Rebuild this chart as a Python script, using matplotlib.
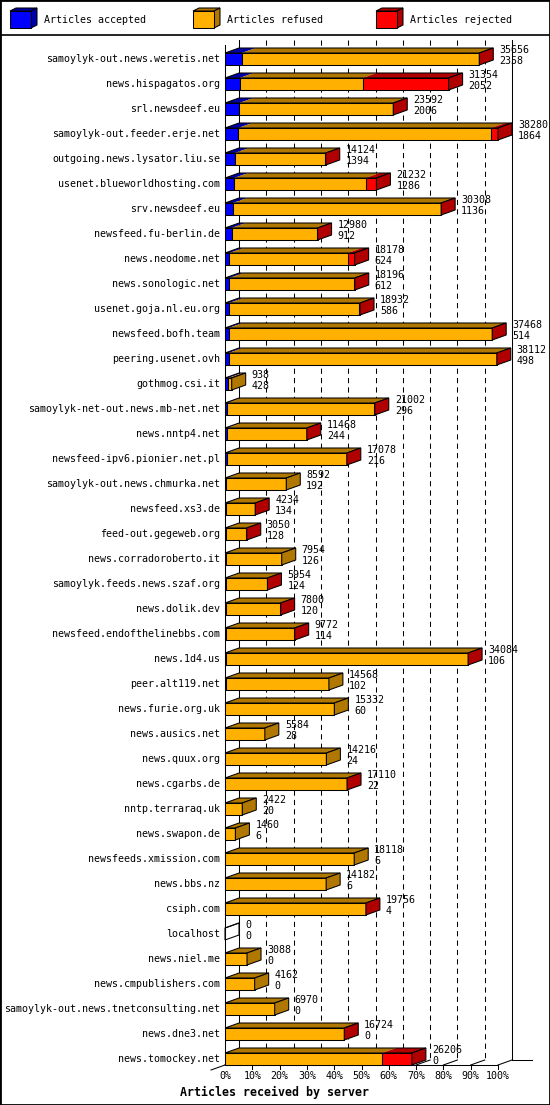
import matplotlib
matplotlib.use("Agg")
import matplotlib.pyplot as plt
from matplotlib.patches import Polygon, Rectangle

servers = [
    "samoylyk-out.news.weretis.net", "news.hispagatos.org", "srl.newsdeef.eu",
    "samoylyk-out.feeder.erje.net", "outgoing.news.lysator.liu.se",
    "usenet.blueworldhosting.com", "srv.newsdeef.eu", "newsfeed.fu-berlin.de",
    "news.neodome.net", "news.sonologic.net", "usenet.goja.nl.eu.org",
    "newsfeed.bofh.team", "peering.usenet.ovh", "gothmog.csi.it",
    "samoylyk-net-out.news.mb-net.net", "news.nntp4.net", "newsfeed-ipv6.pionier.net.pl",
    "samoylyk-out.news.chmurka.net", "newsfeed.xs3.de", "feed-out.gegeweb.org",
    "news.corradoroberto.it", "samoylyk.feeds.news.szaf.org", "news.dolik.dev",
    "newsfeed.endofthelinebbs.com", "news.1d4.us", "peer.alt119.net",
    "news.furie.org.uk", "news.ausics.net", "news.quux.org", "news.cgarbs.de",
    "nntp.terraraq.uk", "news.swapon.de", "newsfeeds.xmission.com", "news.bbs.nz",
    "csiph.com", "localhost", "news.niel.me", "news.cmpublishers.com",
    "samoylyk-out.news.tnetconsulting.net", "news.dne3.net", "news.tomockey.net",
]
offered = [
    35656, 31354, 23592, 38280, 14124, 21232, 30308, 12980, 18178, 18196, 18932,
    37468, 38112, 938, 21002, 11468, 17078, 8592, 4234, 3050, 7954, 5954, 7800,
    9772, 34084, 14568, 15332, 5584, 14216, 17110, 2422, 1460, 18118, 14182,
    19756, 0, 3088, 4162, 6970, 16724, 26206,
]
accepted = [
    2358, 2052, 2006, 1864, 1394, 1286, 1136, 912, 624, 612, 586, 514, 498, 428,
    296, 244, 216, 192, 134, 128, 126, 124, 120, 114, 106, 102, 60, 28, 24, 22,
    20, 6, 6, 6, 4, 0, 0, 0, 0, 0, 0,
]
# rejected counts estimated from the red part of each bar
rejected = [
    90, 12050, 80, 940, 140, 1500, 60, 120, 970, 60, 100, 40, 30, 0, 50, 40, 40,
    0, 30, 60, 0, 40, 40, 40, 60, 0, 0, 0, 0, 40, 0, 0, 0, 0, 40, 0, 0, 0, 0, 40,
    4150,
]
refused = [o - a - r for o, a, r in zip(offered, accepted, rejected)]

pct_ticks = [0, 10, 20, 30, 40, 50, 60, 70, 80, 90, 100]
legend_labels = ["Articles accepted", "Articles refused", "Articles rejected"]
colors = ["#0000ff", "#ffb000", "#ff0000"]
darks = ["#0000a8", "#b07800", "#b00000"]

# pixel layout
W, H = 550, 1105
X0 = 225        # front 0% in px
PXP = 2.73      # px per percent
Y0 = 59         # centre of first row in px
ROW = 25        # row pitch in px

def px_x(p):
    return (p - X0) / PXP

def px_y(p):
    return (p - Y0) / ROW

DX = 14 / PXP
DY = -5 / ROW
HALF = 6 / ROW
LW = 0.75
MONO = "DejaVu Sans Mono"

fig = plt.figure(figsize=(W / 100, H / 100), dpi=100)
ax = fig.add_axes([0, 0, 1, 1])
ax.set_xlim(px_x(0), px_x(W))
ax.set_ylim(px_y(H), px_y(0))
ax.axis("off")

base = len(servers) - 1 + HALF  # front floor line
top_back = px_y(40)
top_front = px_y(45)

# back wall grid
for p in pct_ticks:
    ls = "-" if p in (0, 100) else (0, (5, 4))
    ax.plot([p + DX, p + DX], [top_back, base + DY], color="black", lw=LW, ls=ls, zorder=1)
    ax.plot([p, p + DX], [base, base + DY], color="black", lw=LW, zorder=1)
ax.plot([0, 0], [top_front, base], color="black", lw=LW, zorder=1)
ax.plot([0, 100], [base, base], color="black", lw=LW, zorder=1)
ax.plot([100 + DX, px_x(532)], [base + DY, base + DY], color="black", lw=LW, zorder=1)
ax.plot([0, -DX], [base, base - DY], color="black", lw=LW, zorder=1)
for p in pct_ticks[1:]:
    ax.plot([p, p], [base, base + 4 / ROW], color="black", lw=LW, zorder=1)
    ax.text(p, px_y(1076), f"{p}%", ha="center", va="center", family=MONO, fontsize=7.2)
ax.text(0, px_y(1076), "0%", ha="center", va="center", family=MONO, fontsize=7.2)
ax.text(px_x(274), px_y(1092), "Articles received by server", ha="center", va="center",
        family=MONO, fontsize=8.4, fontweight="bold")

scale = 100 / max(offered)
for i, name in enumerate(servers):
    top, bot = i - HALF, i + HALF
    x = 0
    side = "none"
    for val, col, dk in zip([accepted[i], refused[i], rejected[i]], colors, darks):
        if val <= 0:
            continue
        w = val * scale
        ax.add_patch(Rectangle((x, top), w, 2 * HALF, fc=col, ec="black", lw=LW, zorder=3))
        ax.add_patch(Polygon([(x, top), (x + w, top), (x + w + DX, top + DY), (x + DX, top + DY)],
                             closed=True, fc=dk, ec="none", zorder=3))
        x += w
        side = dk
    ax.add_patch(Polygon([(0, top), (x, top), (x + DX, top + DY), (DX, top + DY)],
                         closed=True, fill=False, ec="black", lw=LW, zorder=4))
    ax.add_patch(Polygon([(x, top), (x, bot), (x + DX, bot + DY), (x + DX, top + DY)],
                         closed=True, fc=side, ec="black", lw=LW, zorder=4))
    ax.text(px_x(220), i, name, ha="right", va="center", family=MONO, fontsize=7.2)
    ax.text(x + DX + 2.2, i - 0.36, str(offered[i]), ha="left", va="center",
            family=MONO, fontsize=7.2, zorder=5)
    ax.text(x + DX + 2.2, i + 0.08, str(accepted[i]), ha="left", va="center",
            family=MONO, fontsize=7.2, zorder=5)

# legend strip
ax.plot([px_x(0), px_x(W)], [px_y(35), px_y(35)], color="black", lw=1.2)
for lx, label, col, dk in zip([10, 193, 376], legend_labels, colors, darks):
    x0, x1 = px_x(lx), px_x(lx + 21)
    y0, y1 = px_y(11), px_y(28)
    ldx, ldy = 6 / PXP, -3 / ROW
    ax.add_patch(Polygon([(x0, y0), (x1, y0), (x1 + ldx, y0 + ldy), (x0 + ldx, y0 + ldy)],
                         closed=True, fc=dk, ec="black", lw=LW))
    ax.add_patch(Polygon([(x1, y0), (x1, y1), (x1 + ldx, y1 + ldy), (x1 + ldx, y0 + ldy)],
                         closed=True, fc=dk, ec="black", lw=LW))
    ax.add_patch(Rectangle((x0, y0), x1 - x0, y1 - y0, fc=col, ec="black", lw=LW))
    ax.text(px_x(lx + 34), px_y(20), label, ha="left", va="center", family=MONO, fontsize=7.2)

ax.add_patch(Rectangle((0, 0), 1, 1, transform=ax.transAxes, fill=False, ec="black",
                       lw=2, clip_on=False))

fig.savefig("out.png", dpi=100)
